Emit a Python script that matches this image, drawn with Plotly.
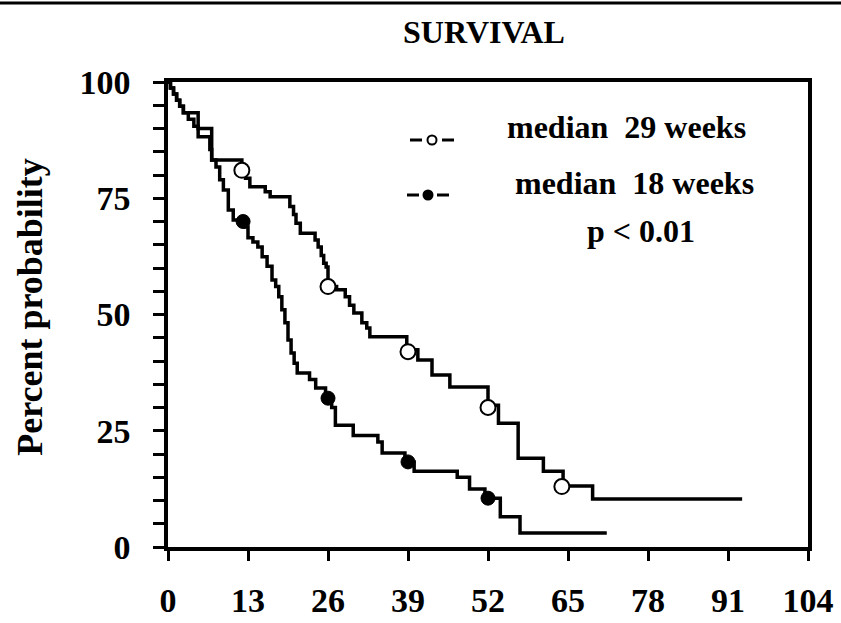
import plotly.graph_objects as go

# ---- data ----
weeks_open = [0, 0.4, 0.9, 1.4, 1.9, 2.5, 4.9, 7.1, 12.0, 12.6, 13.3, 15.8, 16.6, 19.8, 20.4, 20.8,
              21.5, 23.9, 24.4, 24.9, 25.3, 25.7, 26.0, 27.4, 28.8, 29.5, 30.2, 31.5, 32.3, 32.8,
              38.8, 40.6, 42.9, 45.8, 52.0, 53.7, 56.9, 61.0, 64.2, 69.0, 93.3]
surv_open = [100, 98.7, 97.4, 96.1, 94.8, 93.4, 90.0, 83.2, 81.0, 79.3, 77.5, 76.4, 75.3, 73.2, 71.5, 69.6,
             67.5, 66.0, 64.5, 62.7, 61.0, 60.2, 56.0, 55.3, 53.8, 52.0, 50.3, 48.2, 47.1, 45.2,
             42.4, 40.2, 37.0, 34.4, 30.5, 26.6, 19.1, 16.3, 13.1, 10.3, 10.3]

weeks_filled = [0, 0.4, 0.9, 1.4, 1.9, 2.5, 3.3, 4.2, 4.9, 6.8, 7.1, 7.8, 8.4, 9.0, 9.8, 10.6, 12.5,
                13.0, 13.8, 14.6, 15.3, 16.1, 16.9, 17.5, 18.0, 18.5, 19.0, 19.5, 20.0, 20.5, 21.0,
                23.0, 24.0, 25.6, 26.6, 27.2, 30.1, 34.1, 34.8, 38.5, 40.0, 47.0, 49.0, 51.5, 54.0,
                57.2, 71.3]
surv_filled = [100, 98.7, 97.4, 96.1, 94.8, 93.4, 92.0, 90.5, 88.2, 85.5, 83.2, 81.7, 79.0, 76.8, 72.5, 70.3, 68.8,
               66.5, 65.6, 64.5, 62.4, 60.4, 57.4, 56.0, 53.8, 51.0, 48.2, 44.5, 41.7, 39.5, 37.4,
               36.0, 34.2, 32.0, 30.0, 26.2, 24.0, 22.6, 20.2, 18.3, 16.3, 15.0, 12.5, 10.5, 6.5,
               3.0, 3.0]

open_mark_x = [12, 26, 39, 52, 64]
open_mark_y = [81, 56, 42, 30, 13]
filled_mark_x = [12.2, 26, 39, 52]
filled_mark_y = [70, 32, 18.3, 10.5]

x_ticks = [0, 13, 26, 39, 52, 65, 78, 91, 104]
y_ticks = list(range(0, 101, 5))
y_ticktext = [str(v) if v % 25 == 0 else "" for v in y_ticks]

FONT = "Liberation Serif"
L, T, W, H = 168, 82, 640, 465  # plot area in pixels


def px(x):
    return (x - L) / W


def py(y):
    return (T + H - y) / H


fig = go.Figure()
fig.add_trace(go.Scatter(x=weeks_open, y=surv_open, mode="lines", line=dict(shape="hv", color="black", width=3.5)))
fig.add_trace(go.Scatter(x=weeks_filled, y=surv_filled, mode="lines", line=dict(shape="hv", color="black", width=3.5)))
fig.add_trace(go.Scatter(x=open_mark_x, y=open_mark_y, mode="markers",
                         marker=dict(symbol="circle", size=15, color="white", line=dict(color="black", width=2))))
fig.add_trace(go.Scatter(x=filled_mark_x, y=filled_mark_y, mode="markers",
                         marker=dict(symbol="circle", size=14, color="black", line=dict(color="black", width=1))))

tickfont = dict(family=FONT, size=34, color="black", weight=700)
fig.update_xaxes(range=[0, 104], tickvals=x_ticks, ticktext=[str(v) for v in x_ticks],
                 ticks="outside", ticklen=10, tickwidth=3, tickcolor="black",
                 showline=True, linewidth=3.5, linecolor="black", mirror=True, automargin=False,
                 showgrid=False, zeroline=False, tickfont=tickfont, ticklabelstandoff=10)
fig.update_yaxes(range=[0, 100], tickvals=y_ticks, ticktext=y_ticktext,
                 ticks="outside", ticklen=11, tickwidth=3, tickcolor="black",
                 showline=True, linewidth=3.5, linecolor="black", mirror=True, automargin=False,
                 showgrid=False, zeroline=False, tickfont=tickfont, ticklabelstandoff=16)

annots = [
    dict(text="SURVIVAL", x=0.494, y=1.1075, size=32),
    dict(text="Percent probability", x=-0.216, y=0.516, size=36, angle=-90),
    dict(text="median  29 weeks", x=0.527, y=0.903, size=32, anchor="left"),
    dict(text="median  18 weeks", x=0.539, y=0.783, size=32, anchor="left"),
    dict(text="p < 0.01", x=0.652, y=0.680, size=32, anchor="left"),
]
for a in annots:
    fig.add_annotation(text=a["text"], xref="paper", yref="paper", x=a["x"], y=a["y"],
                       xanchor=a.get("anchor", "center"), yanchor="middle", showarrow=False,
                       textangle=a.get("angle", 0),
                       font=dict(family=FONT, size=a["size"], color="black", weight=700))

# legend keys: "-o-" and "-•-"
for (d1a, d1b, cx, d2a, d2b, yy, fill) in [(410, 422, 432, 442, 454, 140, "white"),
                                            (407, 419, 428, 437, 449, 195, "black")]:
    for (a, b) in [(d1a, d1b), (d2a, d2b)]:
        fig.add_shape(type="line", xref="paper", yref="paper", x0=px(a), x1=px(b), y0=py(yy), y1=py(yy),
                      line=dict(color="black", width=3))
    r = 4.5
    fig.add_shape(type="circle", xref="paper", yref="paper", x0=px(cx - r), x1=px(cx + r),
                  y0=py(yy + r), y1=py(yy - r), fillcolor=fill, line=dict(color="black", width=2))

# page rule at the top
fig.add_shape(type="line", xref="paper", yref="paper", x0=px(0), x1=px(841),
              y0=py(3), y1=py(3), line=dict(color="black", width=3))

fig.update_layout(width=841, height=623, margin=dict(l=168, r=33, t=82, b=76),
                  plot_bgcolor="white", paper_bgcolor="white", showlegend=False)

fig.write_html("out.html")
